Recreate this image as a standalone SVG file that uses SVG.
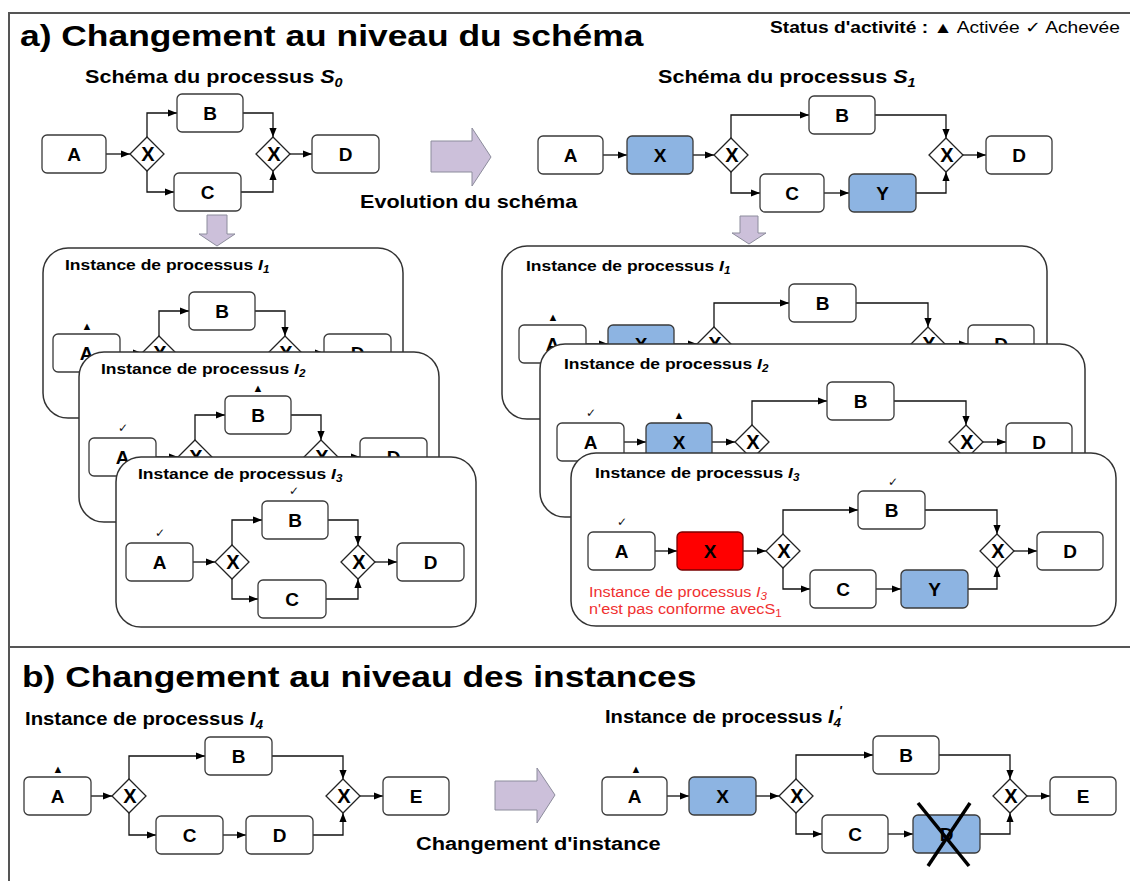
<svg xmlns="http://www.w3.org/2000/svg" width="1130" height="881" viewBox="0 0 1130 881">
<style>
text{font-family:'Liberation Sans',Arial,'DejaVu Sans',sans-serif;fill:#000}
.h1{font-size:30px;font-weight:bold}
.h2{font-size:18px;font-weight:bold}
.pt{font-size:15px;font-weight:bold}
.st{font-size:16px}
.bd{font-weight:bold}
.it{font-style:italic}
.lbl{font-size:19px;font-weight:bold;text-anchor:middle}
.gx{font-size:20px;font-weight:bold;text-anchor:middle}
.mk{font-size:11px;text-anchor:middle}
.ck{font-size:12px;text-anchor:middle;font-family:'DejaVu Sans',sans-serif;fill:#111}
.rt{font-size:14px;fill:#f03030}
.node{fill:#fff;stroke:#3a3a3a;stroke-width:1.3}
.blue{fill:#8db4e2;stroke:#3a3a3a;stroke-width:1.3}
.red{fill:#ff0000;stroke:#7a0000;stroke-width:1.3}
.gw{fill:#fff;stroke:#222;stroke-width:1.3}
.conn path{fill:none;stroke:#111;stroke-width:1.3;marker-end:url(#ah)}
.panel{fill:#fff;stroke:#333;stroke-width:1.5}
.barrow{fill:#ccc0da;stroke:#8c8c9c;stroke-width:1}
.frame{stroke:#555;stroke-width:2;fill:none}
.cross{stroke:#000;stroke-width:3.5}
</style>
<defs>
<marker id="ah" viewBox="0 0 10 8" markerWidth="9" markerHeight="8" refX="10" refY="4" orient="auto" markerUnits="userSpaceOnUse">
<path d="M0,0 L10,4 L0,8 Z" fill="#000"/>
</marker>
</defs>
<rect width="1130" height="881" fill="#fff"/>
<g id="frame">
<path class="frame" d="M9,881 V13 H1130"/>
<path class="frame" d="M9,647 H1130"/>
</g>

<!-- Section a headings -->
<text class="h1" transform="translate(20,46) scale(1.18,1)">a) Changement au niveau du schéma</text>
<text class="st" transform="translate(770,33) scale(1.2,1)"><tspan class="bd">Status d'activité :</tspan> ▲ Activée ✓ Achevée</text>
<text class="h2" transform="translate(85,83) scale(1.2,1)">Schéma du processus <tspan class="it">S</tspan><tspan class="it" font-size="12" dy="4">0</tspan></text>
<text class="h2" transform="translate(658,83) scale(1.2,1)">Schéma du processus <tspan class="it">S</tspan><tspan class="it" font-size="12" dy="4">1</tspan></text>

<!-- S0 -->
<g id="S0">
<g class="conn">
<path d="M106,154 H130"/>
<path d="M147,137 V113 H177"/>
<path d="M147,171 V192 H174"/>
<path d="M243,113 H273 V137"/>
<path d="M241,192 H273 V171"/>
<path d="M290,154 H312"/>
</g>
<g id="S0-A"><rect class="node" x="42" y="135" width="64" height="38" rx="5"/><text class="lbl" x="74" y="161">A</text></g>
<g id="S0-G1"><path class="gw" d="M147,137 L164,154 L147,171 L130,154 Z"/><text class="gx" x="148" y="161">X</text></g>
<g id="S0-B"><rect class="node" x="177" y="94" width="66" height="38" rx="5"/><text class="lbl" x="210" y="120">B</text></g>
<g id="S0-C"><rect class="node" x="174" y="173" width="67" height="38" rx="5"/><text class="lbl" x="207.5" y="199">C</text></g>
<g id="S0-G2"><path class="gw" d="M273,137 L290,154 L273,171 L256,154 Z"/><text class="gx" x="274" y="161">X</text></g>
<g id="S0-D"><rect class="node" x="312" y="135" width="67" height="38" rx="5"/><text class="lbl" x="345.5" y="161">D</text></g>
</g>

<!-- Evolution arrow -->
<g id="evolution">
<path class="barrow" d="M431,141 H472 V128 L491,157 L472,186 V172 H431 Z"/>
<text class="h2" transform="translate(360,208) scale(1.2,1)">Evolution du schéma</text>
</g>

<!-- S1 -->
<g id="S1">
<g class="conn">
<path d="M603,155 H627"/>
<path d="M693,155 H714"/>
<path d="M731,138 V115 H809"/>
<path d="M731,172 V193 H760"/>
<path d="M824,193 H849"/>
<path d="M875,115 H946 V138"/>
<path d="M916,193 H946 V172"/>
<path d="M963,155 H986"/>
</g>
<g id="S1-A"><rect class="node" x="538" y="136" width="65" height="38" rx="5"/><text class="lbl" x="570.5" y="162">A</text></g>
<g id="S1-X"><rect class="blue" x="627" y="136" width="66" height="38" rx="5"/><text class="lbl" x="660" y="162">X</text></g>
<g id="S1-G1"><path class="gw" d="M731,138 L748,155 L731,172 L714,155 Z"/><text class="gx" x="732" y="162">X</text></g>
<g id="S1-B"><rect class="node" x="809" y="96" width="66" height="38" rx="5"/><text class="lbl" x="842" y="122">B</text></g>
<g id="S1-C"><rect class="node" x="760" y="174" width="64" height="38" rx="5"/><text class="lbl" x="792" y="200">C</text></g>
<g id="S1-Y"><rect class="blue" x="849" y="174" width="67" height="38" rx="5"/><text class="lbl" x="882.5" y="200">Y</text></g>
<g id="S1-G2"><path class="gw" d="M946,138 L963,155 L946,172 L929,155 Z"/><text class="gx" x="947" y="162">X</text></g>
<g id="S1-D"><rect class="node" x="986" y="136" width="66" height="38" rx="5"/><text class="lbl" x="1019" y="162">D</text></g>
</g>

<!-- small down arrows -->
<path id="down-left" class="barrow" d="M207,215 H227 V234 H235 L217,246 L199,234 H207 Z"/>
<path id="down-right" class="barrow" d="M740,216 H758 V233 H766 L749,244 L732,233 H740 Z"/>

<!-- Left panels -->
<g id="panel-L1" transform="translate(-73,-209)">
<rect class="panel" x="116" y="457" width="360" height="170" rx="25"/>
<text class="pt" transform="translate(138,479) scale(1.165,1)">Instance de processus <tspan class="it">I</tspan><tspan class="it" font-size="10" dy="3">1</tspan></text>
<g class="conn">
<path d="M193,562 H215"/>
<path d="M232,545 V520 H262"/>
<path d="M328,520 H358 V545"/>
<path d="M375,562 H397"/>
</g>
<g id="L1-A"><rect class="node" x="126" y="543" width="67" height="38" rx="5"/><text class="lbl" x="159.5" y="569">A</text><text class="mk" x="160" y="539">▲</text></g>
<g id="L1-G1"><path class="gw" d="M232,545 L249,562 L232,579 L215,562 Z"/><text class="gx" x="233" y="569">X</text></g>
<g id="L1-B"><rect class="node" x="262" y="501" width="66" height="38" rx="5"/><text class="lbl" x="295" y="527">B</text></g>
<g id="L1-G2"><path class="gw" d="M358,545 L375,562 L358,579 L341,562 Z"/><text class="gx" x="359" y="569">X</text></g>
<g id="L1-D"><rect class="node" x="397" y="543" width="67" height="38" rx="5"/><text class="lbl" x="430.5" y="569">D</text></g>
</g>

<g id="panel-L2" transform="translate(-37,-105)">
<rect class="panel" x="116" y="457" width="360" height="170" rx="25"/>
<text class="pt" transform="translate(138,479) scale(1.165,1)">Instance de processus <tspan class="it">I</tspan><tspan class="it" font-size="10" dy="3">2</tspan></text>
<g class="conn">
<path d="M193,562 H215"/>
<path d="M232,545 V520 H262"/>
<path d="M328,520 H358 V545"/>
<path d="M375,562 H397"/>
</g>
<g id="L2-A"><rect class="node" x="126" y="543" width="67" height="38" rx="5"/><text class="lbl" x="159.5" y="569">A</text><text class="ck" x="160" y="537">✓</text></g>
<g id="L2-G1"><path class="gw" d="M232,545 L249,562 L232,579 L215,562 Z"/><text class="gx" x="233" y="569">X</text></g>
<g id="L2-B"><rect class="node" x="262" y="501" width="66" height="38" rx="5"/><text class="lbl" x="295" y="527">B</text><text class="mk" x="295" y="497">▲</text></g>
<g id="L2-G2"><path class="gw" d="M358,545 L375,562 L358,579 L341,562 Z"/><text class="gx" x="359" y="569">X</text></g>
<g id="L2-D"><rect class="node" x="397" y="543" width="67" height="38" rx="5"/><text class="lbl" x="430.5" y="569">D</text></g>
</g>

<g id="panel-L3">
<rect class="panel" x="116" y="457" width="360" height="170" rx="25"/>
<text class="pt" transform="translate(138,479) scale(1.165,1)">Instance de processus <tspan class="it">I</tspan><tspan class="it" font-size="10" dy="3">3</tspan></text>
<g class="conn">
<path d="M193,562 H215"/>
<path d="M232,545 V520 H262"/>
<path d="M232,579 V599 H258"/>
<path d="M328,520 H358 V545"/>
<path d="M326,599 H358 V579"/>
<path d="M375,562 H397"/>
</g>
<g id="L3-A"><rect class="node" x="126" y="543" width="67" height="38" rx="5"/><text class="lbl" x="159.5" y="569">A</text><text class="ck" x="160" y="537">✓</text></g>
<g id="L3-G1"><path class="gw" d="M232,545 L249,562 L232,579 L215,562 Z"/><text class="gx" x="233" y="569">X</text></g>
<g id="L3-B"><rect class="node" x="262" y="501" width="66" height="38" rx="5"/><text class="lbl" x="295" y="527">B</text><text class="ck" x="294" y="495">✓</text></g>
<g id="L3-C"><rect class="node" x="258" y="580" width="68" height="38" rx="5"/><text class="lbl" x="292" y="606">C</text></g>
<g id="L3-G2"><path class="gw" d="M358,545 L375,562 L358,579 L341,562 Z"/><text class="gx" x="359" y="569">X</text></g>
<g id="L3-D"><rect class="node" x="397" y="543" width="67" height="38" rx="5"/><text class="lbl" x="430.5" y="569">D</text></g>
</g>

<!-- Right panels -->
<g id="panel-R1" transform="translate(-69,-207)">
<rect class="panel" x="571" y="453" width="545" height="173" rx="25"/>
<text class="pt" transform="translate(595,478) scale(1.165,1)">Instance de processus <tspan class="it">I</tspan><tspan class="it" font-size="10" dy="3">1</tspan></text>
<g class="conn">
<path d="M655,551 H677"/>
<path d="M743,551 H766"/>
<path d="M783,534 V510 H858"/>
<path d="M925,510 H997 V534"/>
<path d="M1014,551 H1037"/>
</g>
<g id="R1-A"><rect class="node" x="588" y="532" width="67" height="38" rx="5"/><text class="lbl" x="621.5" y="558">A</text><text class="mk" x="622" y="528">▲</text></g>
<g id="R1-X"><rect class="blue" x="677" y="532" width="66" height="38" rx="5"/><text class="lbl" x="710" y="558">X</text></g>
<g id="R1-G1"><path class="gw" d="M783,534 L800,551 L783,568 L766,551 Z"/><text class="gx" x="784" y="558">X</text></g>
<g id="R1-B"><rect class="node" x="858" y="491" width="67" height="38" rx="5"/><text class="lbl" x="891.5" y="517">B</text></g>
<g id="R1-G2"><path class="gw" d="M997,534 L1014,551 L997,568 L980,551 Z"/><text class="gx" x="998" y="558">X</text></g>
<g id="R1-D"><rect class="node" x="1037" y="532" width="66" height="38" rx="5"/><text class="lbl" x="1070" y="558">D</text></g>
</g>

<g id="panel-R2" transform="translate(-31,-109)">
<rect class="panel" x="571" y="453" width="545" height="173" rx="25"/>
<text class="pt" transform="translate(595,478) scale(1.165,1)">Instance de processus <tspan class="it">I</tspan><tspan class="it" font-size="10" dy="3">2</tspan></text>
<g class="conn">
<path d="M655,551 H677"/>
<path d="M743,551 H766"/>
<path d="M783,534 V510 H858"/>
<path d="M925,510 H997 V534"/>
<path d="M1014,551 H1037"/>
</g>
<g id="R2-A"><rect class="node" x="588" y="532" width="67" height="38" rx="5"/><text class="lbl" x="621.5" y="558">A</text><text class="ck" x="622" y="526">✓</text></g>
<g id="R2-X"><rect class="blue" x="677" y="532" width="66" height="38" rx="5"/><text class="lbl" x="710" y="558">X</text><text class="mk" x="710" y="528">▲</text></g>
<g id="R2-G1"><path class="gw" d="M783,534 L800,551 L783,568 L766,551 Z"/><text class="gx" x="784" y="558">X</text></g>
<g id="R2-B"><rect class="node" x="858" y="491" width="67" height="38" rx="5"/><text class="lbl" x="891.5" y="517">B</text></g>
<g id="R2-G2"><path class="gw" d="M997,534 L1014,551 L997,568 L980,551 Z"/><text class="gx" x="998" y="558">X</text></g>
<g id="R2-D"><rect class="node" x="1037" y="532" width="66" height="38" rx="5"/><text class="lbl" x="1070" y="558">D</text></g>
</g>

<g id="panel-R3">
<rect class="panel" x="571" y="453" width="545" height="173" rx="25"/>
<text class="pt" transform="translate(595,478) scale(1.165,1)">Instance de processus <tspan class="it">I</tspan><tspan class="it" font-size="10" dy="3">3</tspan></text>
<g class="conn">
<path d="M655,551 H677"/>
<path d="M743,551 H766"/>
<path d="M783,534 V510 H858"/>
<path d="M783,568 V589 H810"/>
<path d="M876,589 H901"/>
<path d="M925,510 H997 V534"/>
<path d="M968,589 H997 V568"/>
<path d="M1014,551 H1037"/>
</g>
<g id="R3-A"><rect class="node" x="588" y="532" width="67" height="38" rx="5"/><text class="lbl" x="621.5" y="558">A</text><text class="ck" x="622" y="526">✓</text></g>
<g id="R3-X"><rect class="red" x="677" y="532" width="66" height="38" rx="5"/><text class="lbl" x="710" y="558">X</text></g>
<g id="R3-G1"><path class="gw" d="M783,534 L800,551 L783,568 L766,551 Z"/><text class="gx" x="784" y="558">X</text></g>
<g id="R3-B"><rect class="node" x="858" y="491" width="67" height="38" rx="5"/><text class="lbl" x="891.5" y="517">B</text><text class="ck" x="893" y="486">✓</text></g>
<g id="R3-C"><rect class="node" x="810" y="570" width="66" height="38" rx="5"/><text class="lbl" x="843" y="596">C</text></g>
<g id="R3-Y"><rect class="blue" x="901" y="570" width="67" height="38" rx="5"/><text class="lbl" x="934.5" y="596">Y</text></g>
<g id="R3-G2"><path class="gw" d="M997,534 L1014,551 L997,568 L980,551 Z"/><text class="gx" x="998" y="558">X</text></g>
<g id="R3-D"><rect class="node" x="1037" y="532" width="66" height="38" rx="5"/><text class="lbl" x="1070" y="558">D</text></g>
<text class="rt" transform="translate(589,597) scale(1.16,1)">Instance de processus <tspan class="it" style="fill:#f03030">I</tspan><tspan class="it" font-size="10" dy="3" style="fill:#f03030">3</tspan></text>
<text class="rt" transform="translate(589,614) scale(1.16,1)">n'est pas conforme avecS<tspan font-size="10" dy="3" style="fill:#f03030">1</tspan></text>
</g>

<!-- Section b -->
<text class="h1" transform="translate(22,687) scale(1.18,1)">b) Changement au niveau des instances</text>
<text class="h2" transform="translate(25,725) scale(1.13,1)">Instance de processus <tspan class="it">I</tspan><tspan class="it" font-size="12" dy="4">4</tspan></text>
<text class="h2" transform="translate(605,723) scale(1.12,1)">Instance de processus <tspan class="it">I</tspan><tspan class="it" font-size="12" dy="4">4</tspan><tspan class="it" font-size="12" dx="-2" dy="-12">'</tspan></text>

<g id="I4">
<g class="conn">
<path d="M91,796 H112"/>
<path d="M129,779 V756 H205"/>
<path d="M129,813 V835 H156"/>
<path d="M223,835 H246"/>
<path d="M272,756 H343 V779"/>
<path d="M313,835 H343 V813"/>
<path d="M360,796 H383"/>
</g>
<g id="I4-A"><rect class="node" x="24" y="777" width="67" height="38" rx="5"/><text class="lbl" x="57.5" y="803">A</text><text class="mk" x="58" y="773">▲</text></g>
<g id="I4-G1"><path class="gw" d="M129,779 L146,796 L129,813 L112,796 Z"/><text class="gx" x="130" y="803">X</text></g>
<g id="I4-B"><rect class="node" x="205" y="737" width="67" height="38" rx="5"/><text class="lbl" x="238.5" y="763">B</text></g>
<g id="I4-C"><rect class="node" x="156" y="816" width="67" height="38" rx="5"/><text class="lbl" x="189.5" y="842">C</text></g>
<g id="I4-D"><rect class="node" x="246" y="816" width="67" height="38" rx="5"/><text class="lbl" x="279.5" y="842">D</text></g>
<g id="I4-G2"><path class="gw" d="M343,779 L360,796 L343,813 L326,796 Z"/><text class="gx" x="344" y="803">X</text></g>
<g id="I4-E"><rect class="node" x="383" y="777" width="66" height="38" rx="5"/><text class="lbl" x="416" y="803">E</text></g>
</g>

<g id="change">
<path class="barrow" d="M495,781 H537 V768 L555,795 L537,823 V810 H495 Z"/>
<text class="h2" transform="translate(416,850) scale(1.21,1)">Changement d'instance</text>
</g>

<g id="I4p">
<g class="conn">
<path d="M667,796 H689"/>
<path d="M756,796 H779"/>
<path d="M796,779 V755 H873"/>
<path d="M796,813 V834 H822"/>
<path d="M888,834 H913"/>
<path d="M939,755 H1010 V779"/>
<path d="M980,834 H1010 V813"/>
<path d="M1027,796 H1050"/>
</g>
<g id="I4p-A"><rect class="node" x="602" y="777" width="65" height="38" rx="5"/><text class="lbl" x="634.5" y="803">A</text><text class="mk" x="636" y="773">▲</text></g>
<g id="I4p-X"><rect class="blue" x="689" y="777" width="67" height="38" rx="5"/><text class="lbl" x="722.5" y="803">X</text></g>
<g id="I4p-G1"><path class="gw" d="M796,779 L813,796 L796,813 L779,796 Z"/><text class="gx" x="797" y="803">X</text></g>
<g id="I4p-B"><rect class="node" x="873" y="736" width="66" height="38" rx="5"/><text class="lbl" x="906" y="762">B</text></g>
<g id="I4p-C"><rect class="node" x="822" y="815" width="66" height="38" rx="5"/><text class="lbl" x="855" y="841">C</text></g>
<g id="I4p-D"><rect class="blue" x="913" y="815" width="67" height="38" rx="5"/><text class="lbl" x="946.5" y="841">D</text><line class="cross" x1="918" y1="803" x2="969" y2="866"/><line class="cross" x1="970" y1="803" x2="928" y2="866"/></g>
<g id="I4p-G2"><path class="gw" d="M1010,779 L1027,796 L1010,813 L993,796 Z"/><text class="gx" x="1011" y="803">X</text></g>
<g id="I4p-E"><rect class="node" x="1050" y="777" width="66" height="38" rx="5"/><text class="lbl" x="1083" y="803">E</text></g>
</g>
</svg>
